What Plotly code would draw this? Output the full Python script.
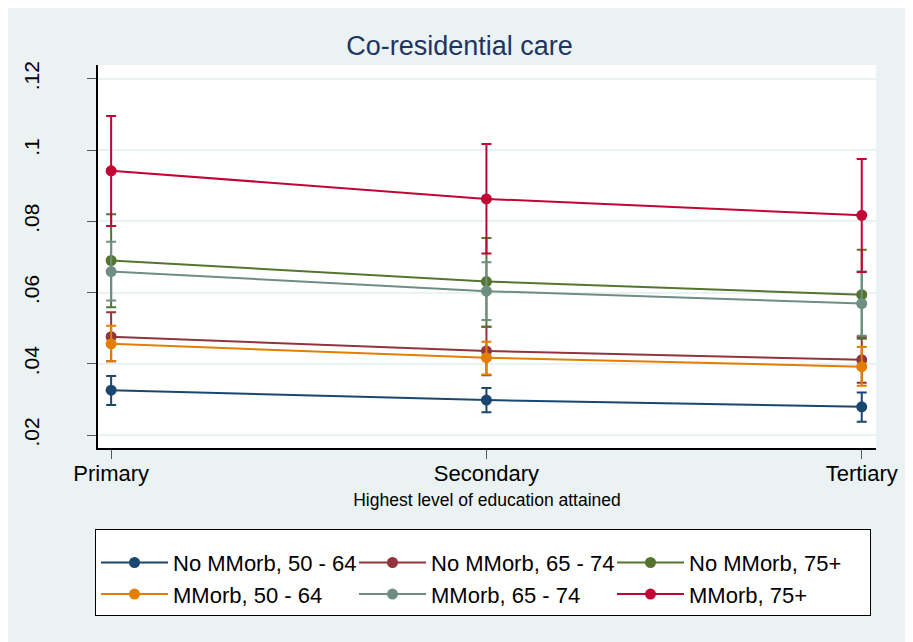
import plotly.graph_objects as go

categories = ["Primary", "Secondary", "Tertiary"]

series_names = ["No MMorb, 50 - 64", "No MMorb, 65 - 74", "No MMorb, 75+",
                "MMorb, 50 - 64", "MMorb, 65 - 74", "MMorb, 75+"]

no_50_64 = [0.0326, 0.0298, 0.0279]
no_50_64_lo = [0.0284, 0.0264, 0.0237]
no_50_64_hi = [0.0366, 0.0332, 0.0319]

no_65_74 = [0.0476, 0.0436, 0.0411]
no_65_74_lo = [0.0407, 0.0368, 0.0347]
no_65_74_hi = [0.0545, 0.0504, 0.0475]

no_75 = [0.0690, 0.0631, 0.0594]
no_75_lo = [0.0559, 0.0504, 0.0470]
no_75_hi = [0.0820, 0.0753, 0.0720]

mm_50_64 = [0.0456, 0.0417, 0.0392]
mm_50_64_lo = [0.0407, 0.0370, 0.0338]
mm_50_64_hi = [0.0507, 0.0462, 0.0447]

mm_65_74 = [0.0659, 0.0604, 0.0569]
mm_65_74_lo = [0.0578, 0.0523, 0.0479]
mm_65_74_hi = [0.0743, 0.0685, 0.0659]

mm_75 = [0.0942, 0.0863, 0.0817]
mm_75_lo = [0.0787, 0.0710, 0.0658]
mm_75_hi = [0.1096, 0.1017, 0.0975]

y_tickvals = [0.02, 0.04, 0.06, 0.08, 0.10, 0.12]
y_ticktext = [".02", ".04", ".06", ".08", ".1", ".12"]

colors = ["#1a476f", "#90353b", "#55752f", "#e37e00", "#6e8e84", "#c10534"]

data = [
    (no_50_64, no_50_64_lo, no_50_64_hi),
    (no_65_74, no_65_74_lo, no_65_74_hi),
    (no_75, no_75_lo, no_75_hi),
    (mm_50_64, mm_50_64_lo, mm_50_64_hi),
    (mm_65_74, mm_65_74_lo, mm_65_74_hi),
    (mm_75, mm_75_lo, mm_75_hi),
]

fig = go.Figure()
for name, color, (est, lo, hi) in zip(series_names, colors, data):
    fig.add_trace(go.Scatter(
        x=categories, y=est, name=name, mode="lines+markers",
        line=dict(color=color, width=2),
        marker=dict(color=color, size=11),
        error_y=dict(type="data", symmetric=False,
                     array=[h - e for h, e in zip(hi, est)],
                     arrayminus=[e - l for e, l in zip(est, lo)],
                     color=color, thickness=2, width=5),
    ))

W, H = 905, 634
bg = "#eaf2f3"
fig.update_layout(
    width=W, height=H,
    paper_bgcolor=bg, plot_bgcolor="white",
    margin=dict(l=82, r=37, t=57, b=194),
    font=dict(family="Liberation Sans, Arial, sans-serif", color="black"),
    title=dict(text="Co-residential care", x=451.5 / W, xanchor="center",
               y=1 - 38 / H, yanchor="middle", yref="container",
               font=dict(size=27, color="#1f3461")),
    showlegend=True,
    legend=dict(orientation="h", xref="container", yref="container",
                x=87 / W, xanchor="left", y=1 - 521 / H, yanchor="top",
                bgcolor="white", bordercolor="black", borderwidth=1,
                font=dict(size=22), itemwidth=67,
                entrywidth=176, entrywidthmode="pixels",
                title=dict(text=" ", side="top", font=dict(size=9)),
                traceorder="normal"),
)
fig.update_xaxes(type="category", range=[-0.035, 2.038],
                 showline=True, linecolor="black", linewidth=1.5,
                 ticks="outside", ticklen=9, tickcolor="#555555",
                 showgrid=False, zeroline=False, mirror=False,
                 tickfont=dict(size=22), ticklabelstandoff=-4,
                 title=dict(text="Highest level of education attained",
                            font=dict(size=17.5), standoff=9))
fig.update_yaxes(range=[0.01635, 0.1239],
                 tickvals=y_tickvals, ticktext=y_ticktext, tickangle=-90,
                 showline=True, linecolor="black", linewidth=1.5,
                 ticks="outside", ticklen=9, tickcolor="#555555",
                 showgrid=True, gridcolor=bg, gridwidth=2, zeroline=False,
                 tickfont=dict(size=21), ticklabelstandoff=40)

fig.write_html("out.html")
